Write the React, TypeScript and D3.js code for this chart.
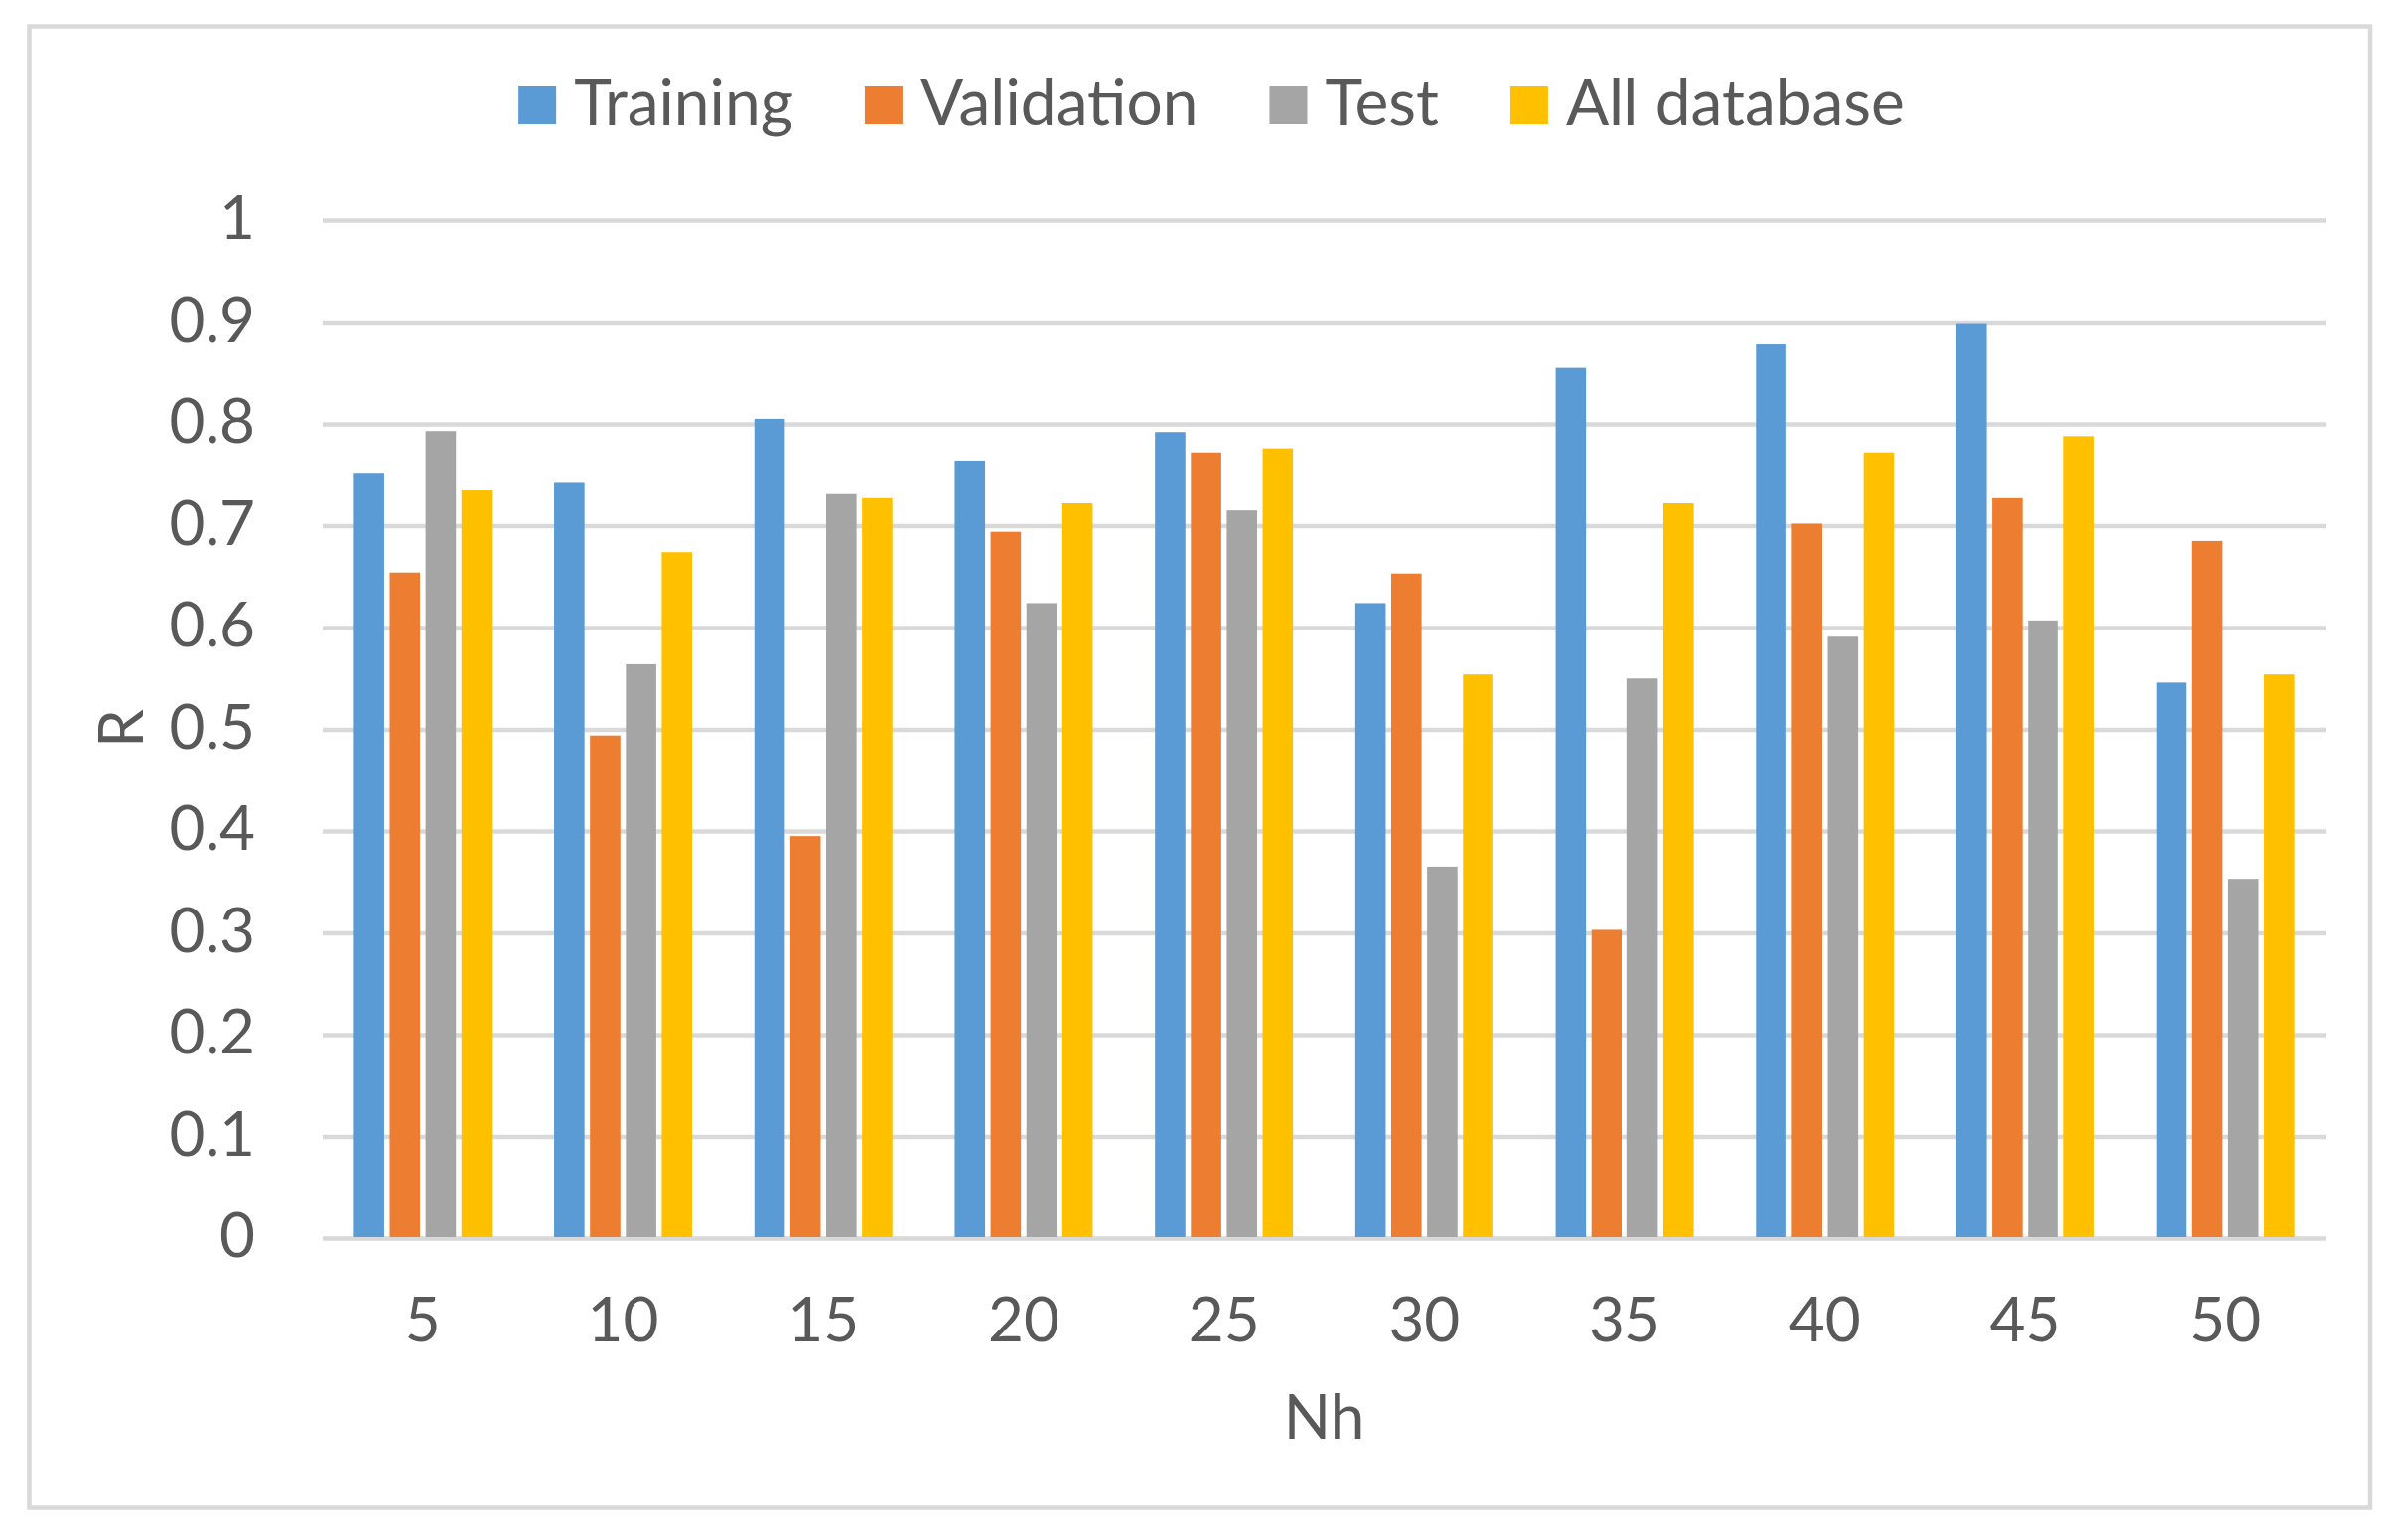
import { useEffect, useRef } from 'react';
import * as d3 from 'd3';

const categories = ['5', '10', '15', '20', '25', '30', '35', '40', '45', '50'];
const seriesNames = ['Training', 'Validation', 'Test', 'All database'];
const training = [0.751, 0.742, 0.804, 0.763, 0.791, 0.623, 0.854, 0.878, 0.898, 0.545];
const validation = [0.653, 0.493, 0.394, 0.693, 0.771, 0.652, 0.302, 0.701, 0.726, 0.684];
const test = [0.792, 0.563, 0.730, 0.623, 0.714, 0.364, 0.549, 0.590, 0.606, 0.352];
const allDatabase = [0.734, 0.673, 0.726, 0.721, 0.775, 0.553, 0.721, 0.771, 0.787, 0.553];
const yTicks = [0, 0.1, 0.2, 0.3, 0.4, 0.5, 0.6, 0.7, 0.8, 0.9, 1];

const colors = ['#5B9BD5', '#ED7D31', '#A5A5A5', '#FFC000'];
const FONT = 'Lato, "Open Sans", sans-serif';
const TEXT = '#595959';
const GRID = '#D9D9D9';

function ResultsChart({ width = 2414, height = 1551 }: { width?: number; height?: number }) {
  const svgRef = useRef<SVGSVGElement>(null);

  useEffect(() => {
    if (!svgRef.current) return;

    const margin = { top: 221, right: 72, bottom: 305, left: 325 };
    const innerWidth = width - margin.left - margin.right;
    const innerHeight = height - margin.top - margin.bottom;

    const svg = d3.select(svgRef.current);
    svg.selectAll('*').remove();

    svg.append('rect')
      .attr('width', width)
      .attr('height', height)
      .attr('fill', '#fff');

    // chart area border
    svg.append('rect')
      .attr('x', 29.5)
      .attr('y', 26.5)
      .attr('width', 2357.5)
      .attr('height', 1492)
      .attr('fill', '#fff')
      .attr('stroke', GRID)
      .attr('stroke-width', 4.5);

    const g = svg.append('g')
      .attr('transform', `translate(${margin.left},${margin.top})`);

    const x0 = d3.scaleBand<string>()
      .domain(categories)
      .range([0, innerWidth])
      .paddingInner(0.311)
      .paddingOuter(0.1555);

    const x1 = d3.scaleBand<string>()
      .domain(seriesNames)
      .range([0, x0.bandwidth()])
      .paddingInner(0.153);

    const y = d3.scaleLinear()
      .domain([0, 1])
      .range([innerHeight, 0]);

    g.selectAll('.grid')
      .data(yTicks)
      .enter()
      .append('line')
      .attr('class', 'grid')
      .attr('x1', 0)
      .attr('x2', innerWidth)
      .attr('y1', d => y(d) + 1.5)
      .attr('y2', d => y(d) + 1.5)
      .attr('stroke', GRID)
      .attr('stroke-width', 4.5);

    const series = [training, validation, test, allDatabase];
    const rows = categories.map((c, i) => ({
      cat: c,
      values: seriesNames.map((s, k) => ({ key: s, value: series[k][i], color: colors[k] }))
    }));

    const groups = g.selectAll('.group')
      .data(rows)
      .enter()
      .append('g')
      .attr('class', 'group')
      .attr('transform', d => `translate(${x0(d.cat)},0)`);

    groups.selectAll('rect')
      .data(d => d.values)
      .enter()
      .append('rect')
      .attr('x', d => x1(d.key)!)
      .attr('y', d => y(d.value))
      .attr('width', x1.bandwidth())
      .attr('height', d => innerHeight - y(d.value))
      .attr('fill', d => d.color);

    // y axis labels
    const yAxis = d3.axisLeft(y)
      .tickValues(yTicks)
      .tickSize(0)
      .tickPadding(68)
      .tickFormat(d => `${d}`);

    const yg = g.append('g').call(yAxis);
    yg.select('.domain').remove();
    yg.selectAll('text')
      .attr('fill', TEXT)
      .attr('font-family', FONT)
      .attr('font-size', '62px')
      .attr('dy', '0.32em');

    // x axis labels
    const xAxis = d3.axisBottom(x0).tickSize(0).tickPadding(61);
    const xg = g.append('g')
      .attr('transform', `translate(0,${innerHeight})`)
      .call(xAxis);
    xg.select('.domain').remove();
    xg.selectAll('text')
      .attr('fill', TEXT)
      .attr('font-family', FONT)
      .attr('font-size', '62px')
      .attr('dy', '0.71em');

    g.append('text')
      .attr('x', innerWidth / 2)
      .attr('y', 1449 - margin.top)
      .attr('text-anchor', 'middle')
      .attr('fill', TEXT)
      .attr('font-family', FONT)
      .attr('font-size', '62px')
      .text('Nh');

    svg.append('text')
      .attr('transform', `translate(144,${margin.top + innerHeight / 2}) rotate(-90)`)
      .attr('text-anchor', 'middle')
      .attr('fill', TEXT)
      .attr('font-family', FONT)
      .attr('font-size', '62px')
      .text('R');

    // legend
    const legend = svg.append('g');
    let cursor = 0;
    seriesNames.forEach((name, k) => {
      const item = legend.append('g').attr('transform', `translate(${cursor},0)`);
      item.append('rect')
        .attr('x', 0)
        .attr('y', 87)
        .attr('width', 38)
        .attr('height', 38)
        .attr('fill', colors[k]);
      const t = item.append('text')
        .attr('x', 56)
        .attr('y', 126)
        .attr('fill', TEXT)
        .attr('font-family', FONT)
        .attr('font-size', '64px')
        .text(name);
      const tw = (t.node() as SVGTextElement).getComputedTextLength();
      cursor += 56 + tw + (k < seriesNames.length - 1 ? 72 : 0);
    });
    legend.attr('transform', `translate(${1220 - cursor / 2},0)`);
  }, [width, height]);

  return (
    <svg
      ref={svgRef}
      width={width}
      height={height}
      style={{ position: 'absolute', left: 0, top: 0, display: 'block' }}
    />
  );
}

export default function App() {
  return <ResultsChart />;
}
